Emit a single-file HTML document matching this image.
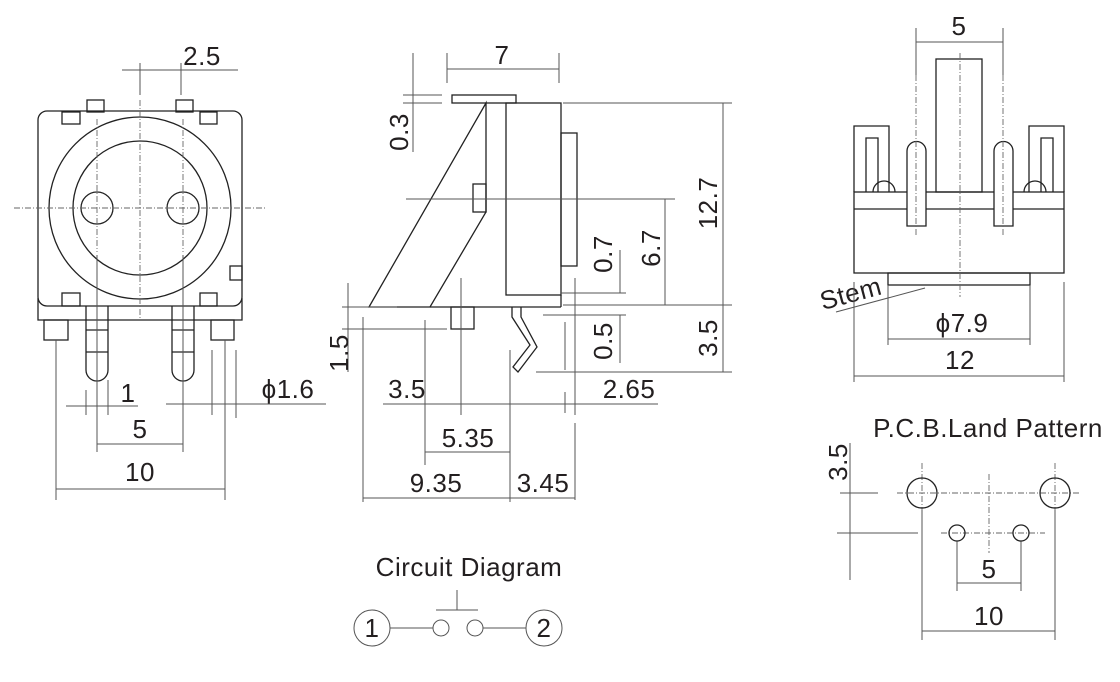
<!DOCTYPE html>
<html><head><meta charset="utf-8"><style>
html,body{margin:0;padding:0;background:#fff;}
svg{display:block;}
text{font-family:"Liberation Sans",sans-serif;fill:#231f20;font-size:26px;letter-spacing:0.5px;}
.o{stroke:#222;stroke-width:1.3;fill:none;}
.d{stroke:#555;stroke-width:1;fill:none;}
.c{stroke:#666;stroke-width:0.9;fill:none;stroke-dasharray:6,2,1,2;}
</style></head><body>
<svg width="1120" height="682" viewBox="0 0 1120 682" xmlns="http://www.w3.org/2000/svg">
<!-- FRONT VIEW -->
<g>
<rect class="o" x="38" y="111" width="204" height="195" rx="9"/>
<path class="o" d="M38 298 V320 H242 V298"/>
<rect class="o" x="87" y="100" width="17" height="12"/>
<rect class="o" x="176" y="100" width="17" height="12"/>
<rect class="o" x="62" y="112" width="18" height="12"/>
<rect class="o" x="200" y="112" width="17" height="12"/>
<rect class="o" x="62" y="293" width="18" height="13"/>
<rect class="o" x="200" y="293" width="17" height="13"/>
<rect class="o" x="230" y="266" width="12" height="14"/>
<circle class="o" cx="140" cy="208" r="91"/>
<circle class="o" cx="140" cy="208" r="67"/>
<circle class="o" cx="97" cy="208" r="16"/>
<circle class="o" cx="183" cy="208" r="16"/>
<line class="c" x1="14" y1="208" x2="267" y2="208"/>
<line class="c" x1="140" y1="100" x2="140" y2="320"/>
<line class="c" x1="97" y1="119" x2="97" y2="252"/>
<line class="c" x1="183" y1="119" x2="183" y2="252"/>
<path class="o" d="M86 306 V370 A11 11 0 0 0 108 370 V306"/>
<path class="o" d="M172 306 V370 A11 11 0 0 0 194 370 V306"/>
<line class="o" x1="86" y1="330" x2="108" y2="330"/><line class="o" x1="86" y1="352" x2="108" y2="352"/>
<line class="o" x1="172" y1="330" x2="194" y2="330"/><line class="o" x1="172" y1="352" x2="194" y2="352"/>
<rect class="o" x="44" y="320" width="24" height="20"/>
<rect class="o" x="211" y="320" width="23" height="20"/>
<line class="d" x1="140" y1="63" x2="140" y2="95"/><line class="d" x1="181" y1="63" x2="181" y2="95"/>
<line class="d" x1="122" y1="70" x2="238" y2="70"/>
<text x="202" y="65" text-anchor="middle">2.5</text>
<line class="d" x1="97" y1="255" x2="97" y2="452"/><line class="d" x1="183" y1="255" x2="183" y2="452"/>
<line class="d" x1="86" y1="390" x2="86" y2="415"/><line class="d" x1="108" y1="380" x2="108" y2="415"/>
<line class="d" x1="66" y1="406" x2="138" y2="406"/>
<text x="128" y="402" text-anchor="middle">1</text>
<line class="d" x1="97" y1="444" x2="183" y2="444"/>
<text x="140" y="438" text-anchor="middle">5</text>
<line class="d" x1="56" y1="340" x2="56" y2="500"/><line class="d" x1="225" y1="340" x2="225" y2="500"/>
<line class="d" x1="56" y1="489" x2="225" y2="489"/>
<text x="140" y="481" text-anchor="middle">10</text>
<line class="d" x1="212" y1="350" x2="212" y2="415"/><line class="d" x1="236" y1="350" x2="236" y2="418"/>
<line class="d" x1="166" y1="404" x2="326" y2="404"/>
<text x="288" y="398" text-anchor="middle">ϕ1.6</text>
</g>
<!-- SIDE VIEW -->
<g>
<rect class="o" x="452" y="95" width="64" height="8"/>
<rect class="o" x="506" y="103" width="55" height="192"/>
<path class="o" d="M369 307 L486 103 V212 L430 307 Z"/>
<line class="o" x1="430" y1="307" x2="561" y2="307"/>
<line class="o" x1="561" y1="295" x2="561" y2="307"/>
<rect class="o" x="473" y="184" width="13" height="28"/>
<rect class="o" x="561" y="133" width="16" height="133"/>
<rect class="o" x="451" y="307" width="23" height="22"/>
<path class="o" d="M512 307 V317 L530 345 L513 367 L518 372 L537 347 L521 317 V307"/>
<line class="d" x1="447" y1="53" x2="447" y2="83"/><line class="d" x1="559" y1="53" x2="559" y2="83"/>
<line class="d" x1="447" y1="69" x2="559" y2="69"/>
<text x="502" y="64" text-anchor="middle">7</text>
<line class="d" x1="403" y1="95" x2="442" y2="95"/><line class="d" x1="403" y1="103" x2="442" y2="103"/>
<line class="d" x1="413" y1="53" x2="413" y2="152"/>
<text transform="translate(408,132) rotate(-90)" text-anchor="middle">0.3</text>
<line class="d" x1="563" y1="103" x2="732" y2="103"/><line class="d" x1="563" y1="305" x2="732" y2="305"/>
<line class="d" x1="536" y1="372" x2="732" y2="372"/>
<line class="d" x1="723" y1="103" x2="723" y2="372"/>
<text transform="translate(717,203) rotate(-90)" text-anchor="middle">12.7</text>
<text transform="translate(717,338) rotate(-90)" text-anchor="middle">3.5</text>
<line class="d" x1="406" y1="199" x2="675" y2="199"/>
<line class="d" x1="665" y1="199" x2="665" y2="305"/>
<text transform="translate(660,248) rotate(-90)" text-anchor="middle">6.7</text>
<line class="d" x1="561" y1="293" x2="626" y2="293"/>
<line class="d" x1="620" y1="250" x2="620" y2="293"/>
<text transform="translate(612,254) rotate(-90)" text-anchor="middle">0.7</text>
<line class="d" x1="543" y1="315" x2="626" y2="315"/>
<line class="d" x1="620" y1="315" x2="620" y2="363"/>
<text transform="translate(612,341) rotate(-90)" text-anchor="middle">0.5</text>
<line class="d" x1="565" y1="322" x2="565" y2="370"/><line class="d" x1="565" y1="392" x2="565" y2="413"/>
<line class="d" x1="342" y1="307" x2="397" y2="307"/><line class="d" x1="342" y1="329" x2="447" y2="329"/>
<line class="d" x1="348" y1="283" x2="348" y2="372"/>
<text transform="translate(348,353) rotate(-90)" text-anchor="middle">1.5</text>
<line class="d" x1="383" y1="404" x2="658" y2="404"/>
<line class="d" x1="461" y1="278" x2="461" y2="415"/>
<line class="d" x1="575" y1="278" x2="575" y2="415"/><line class="d" x1="575" y1="423" x2="575" y2="500"/>
<text x="407" y="398" text-anchor="middle">3.5</text>
<text x="629" y="398" text-anchor="middle">2.65</text>
<line class="d" x1="425" y1="320" x2="425" y2="465"/>
<line class="d" x1="510" y1="350" x2="510" y2="502"/>
<line class="d" x1="425" y1="452" x2="510" y2="452"/>
<text x="468" y="447" text-anchor="middle">5.35</text>
<line class="d" x1="363" y1="317" x2="363" y2="502"/>
<line class="d" x1="363" y1="498" x2="575" y2="498"/>
<text x="436" y="492" text-anchor="middle">9.35</text>
<text x="543" y="492" text-anchor="middle">3.45</text>
</g>
<!-- RIGHT VIEW -->
<g>
<rect class="o" x="854" y="192" width="210" height="81"/>
<line class="o" x1="854" y1="209" x2="1064" y2="209"/>
<rect class="o" x="888" y="273" width="142" height="12"/>
<rect class="o" x="936" y="59" width="46" height="133"/>
<path class="o" d="M854 192 V126 H889 V192 M866 192 V138 H878 V192"/>
<path class="o" d="M1029 192 V126 H1064 V192 M1041 192 V138 H1053 V192"/>
<path class="o" d="M873 192 A11 11 0 0 1 895 192"/>
<path class="o" d="M1024 192 A11 11 0 0 1 1046 192"/>
<path d="M907 226 V151 A9.5 9.5 0 0 1 926 151 V226 Z" fill="#fff" stroke="#222" stroke-width="1.3"/>
<path d="M994 226 V151 A9.5 9.5 0 0 1 1013 151 V226 Z" fill="#fff" stroke="#222" stroke-width="1.3"/>
<line class="c" x1="960" y1="53" x2="960" y2="297"/>
<line class="c" x1="916" y1="75" x2="916" y2="235"/>
<line class="c" x1="1003" y1="75" x2="1003" y2="235"/>
<line class="d" x1="916" y1="28" x2="916" y2="75"/><line class="d" x1="1003" y1="28" x2="1003" y2="75"/>
<line class="d" x1="916" y1="42" x2="1003" y2="42"/>
<text x="959" y="35" text-anchor="middle">5</text>
<line class="d" x1="836" y1="312" x2="925" y2="288"/>
<text transform="translate(853,302) rotate(-15)" text-anchor="middle">Stem</text>
<line class="d" x1="888" y1="285" x2="888" y2="345"/><line class="d" x1="1030" y1="285" x2="1030" y2="345"/>
<line class="d" x1="888" y1="339" x2="1030" y2="339"/>
<text x="962" y="332" text-anchor="middle">ϕ7.9</text>
<line class="d" x1="854" y1="282" x2="854" y2="382"/><line class="d" x1="1064" y1="282" x2="1064" y2="382"/>
<line class="d" x1="854" y1="376" x2="1064" y2="376"/>
<text x="960" y="369" text-anchor="middle">12</text>
</g>
<!-- PCB -->
<g>
<text x="988" y="437" text-anchor="middle">P.C.B.Land Pattern</text>
<line class="c" x1="897" y1="493" x2="1080" y2="493"/>
<line class="c" x1="941" y1="533" x2="1045" y2="533"/>
<line class="c" x1="989" y1="474" x2="989" y2="553"/>
<line class="c" x1="922" y1="463" x2="922" y2="510"/>
<line class="c" x1="1055" y1="463" x2="1055" y2="510"/>
<line class="d" x1="922" y1="510" x2="922" y2="640"/><line class="d" x1="1055" y1="510" x2="1055" y2="640"/>
<line class="d" x1="957" y1="541" x2="957" y2="591"/><line class="d" x1="1021" y1="541" x2="1021" y2="591"/>
<circle class="o" cx="922" cy="493" r="15"/><circle class="o" cx="1055" cy="493" r="15"/>
<circle class="o" cx="957" cy="533" r="8"/><circle class="o" cx="1021" cy="533" r="8"/>
<line class="d" x1="850" y1="443" x2="850" y2="580"/>
<line class="d" x1="840" y1="493" x2="878" y2="493"/><line class="d" x1="837" y1="533" x2="918" y2="533"/>
<text transform="translate(847,462) rotate(-90)" text-anchor="middle">3.5</text>
<line class="d" x1="957" y1="583" x2="1021" y2="583"/>
<text x="989" y="578" text-anchor="middle">5</text>
<line class="d" x1="922" y1="631" x2="1055" y2="631"/>
<text x="989" y="625" text-anchor="middle">10</text>
</g>
<!-- CIRCUIT -->
<g>
<text x="469" y="576" text-anchor="middle">Circuit Diagram</text>
<circle class="d" cx="372" cy="628" r="18"/>
<circle class="d" cx="544" cy="628" r="18"/>
<text x="372" y="637" text-anchor="middle">1</text>
<text x="544" y="637" text-anchor="middle">2</text>
<line class="d" x1="390" y1="628" x2="433" y2="628"/>
<circle class="d" cx="441" cy="628" r="8"/>
<circle class="d" cx="475" cy="628" r="8"/>
<line class="d" x1="483" y1="628" x2="526" y2="628"/>
<line class="d" x1="436" y1="610" x2="478" y2="610"/>
<line class="d" x1="457" y1="590" x2="457" y2="610"/>
</g>
</svg>
</body></html>
